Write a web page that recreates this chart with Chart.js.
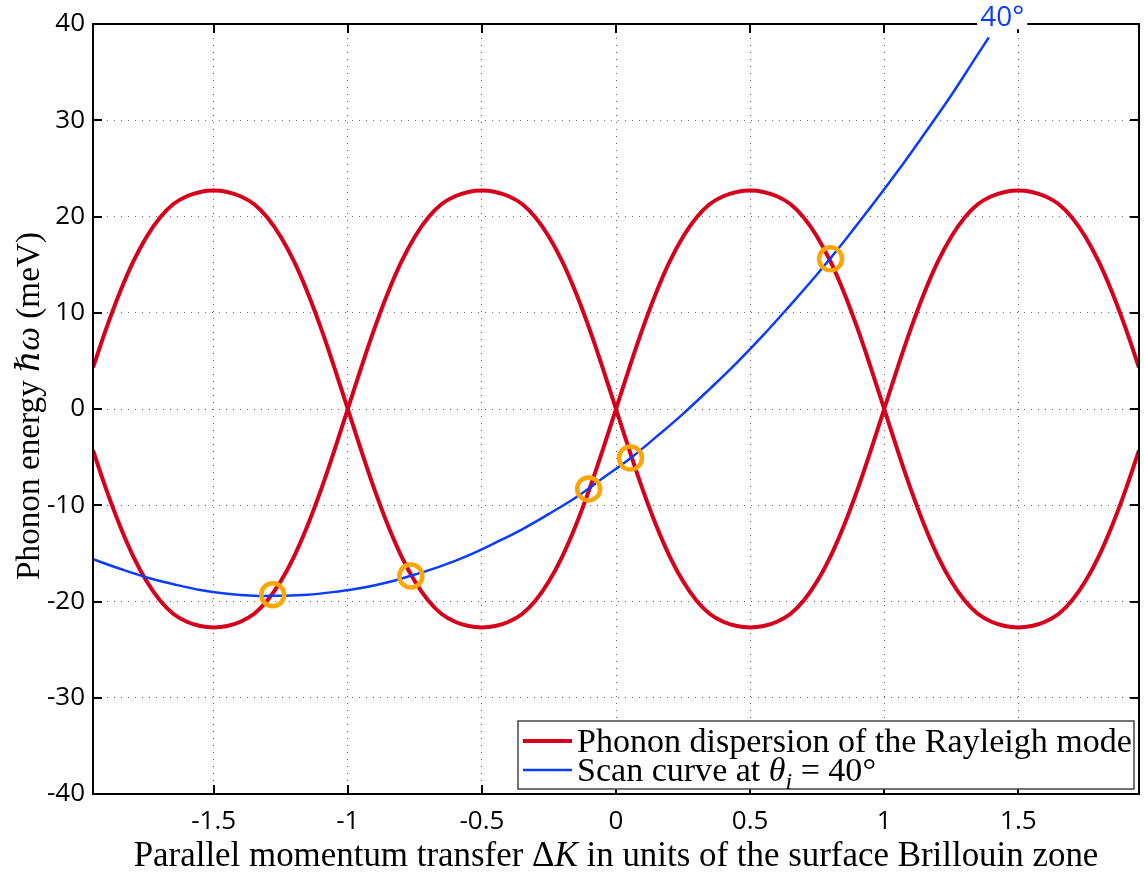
<!DOCTYPE html>
<html>
<head>
<meta charset="utf-8">
<script src="https://cdn.jsdelivr.net/npm/chart.js@4.4.0/dist/chart.umd.min.js"></script>
<style>
  html, body { margin: 0; padding: 0; background: #fff; }
</style>
</head>
<body>
<canvas id="chartCanvas" width="1144" height="872"></canvas>
<script>
// Rayleigh mode dispersion + scan curve at 40 deg

let kRed = [-1.95, -1.9, -1.85, -1.8, -1.75, -1.7, -1.65, -1.6, -1.55, -1.5,
    -1.45, -1.4, -1.35, -1.3, -1.25, -1.2, -1.15, -1.1, -1.05, -1.0,
    -0.95, -0.9, -0.85, -0.8, -0.75, -0.7, -0.65, -0.6, -0.55, -0.5,
    -0.45, -0.4, -0.35, -0.3, -0.25, -0.2, -0.15, -0.1, -0.05, 0.0,
    0.05, 0.1, 0.15, 0.2, 0.25, 0.3, 0.35, 0.4, 0.45, 0.5,
    0.55, 0.6, 0.65, 0.7, 0.75, 0.8, 0.85, 0.9, 0.95, 1.0,
    1.05, 1.1, 1.15, 1.2, 1.25, 1.3, 1.35, 1.4, 1.45, 1.5,
    1.55, 1.6, 1.65, 1.7, 1.75, 1.8, 1.85, 1.9, 1.95];

let rayleighA = [4.3, 8.4, 12.1, 15.3, 17.9, 19.9, 21.3, 22.1, 22.55, 22.7,
    22.55, 22.1, 21.3, 19.9, 17.9, 15.3, 12.1, 8.4, 4.3, 0,
    -4.3, -8.4, -12.1, -15.3, -17.9, -19.9, -21.3, -22.1, -22.55, -22.7,
    -22.55, -22.1, -21.3, -19.9, -17.9, -15.3, -12.1, -8.4, -4.3, 0,
    4.3, 8.4, 12.1, 15.3, 17.9, 19.9, 21.3, 22.1, 22.55, 22.7,
    22.55, 22.1, 21.3, 19.9, 17.9, 15.3, 12.1, 8.4, 4.3, 0,
    -4.3, -8.4, -12.1, -15.3, -17.9, -19.9, -21.3, -22.1, -22.55, -22.7,
    -22.55, -22.1, -21.3, -19.9, -17.9, -15.3, -12.1, -8.4, -4.3];

let rayleighB = [-4.3, -8.4, -12.1, -15.3, -17.9, -19.9, -21.3, -22.1, -22.55, -22.7,
    -22.55, -22.1, -21.3, -19.9, -17.9, -15.3, -12.1, -8.4, -4.3, 0,
    4.3, 8.4, 12.1, 15.3, 17.9, 19.9, 21.3, 22.1, 22.55, 22.7,
    22.55, 22.1, 21.3, 19.9, 17.9, 15.3, 12.1, 8.4, 4.3, 0,
    -4.3, -8.4, -12.1, -15.3, -17.9, -19.9, -21.3, -22.1, -22.55, -22.7,
    -22.55, -22.1, -21.3, -19.9, -17.9, -15.3, -12.1, -8.4, -4.3, 0,
    4.3, 8.4, 12.1, 15.3, 17.9, 19.9, 21.3, 22.1, 22.55, 22.7,
    22.55, 22.1, 21.3, 19.9, 17.9, 15.3, 12.1, 8.4, 4.3];

let kScan = [-1.95, -1.85, -1.75, -1.65, -1.55, -1.45, -1.35, -1.25, -1.15, -1.05,
    -0.95, -0.85, -0.75, -0.65, -0.55, -0.45, -0.35, -0.25, -0.15, -0.05,
    0.05, 0.15, 0.25, 0.35, 0.45, 0.55, 0.65, 0.75, 0.85, 0.95,
    1.05, 1.15, 1.25, 1.35, 1.39];

let scanE = [-15.6, -16.6, -17.5, -18.2, -18.8, -19.2, -19.4, -19.4, -19.3, -19.0,
    -18.6, -18.0, -17.2, -16.3, -15.2, -13.9, -12.5, -10.9, -9.2, -7.2,
    -5.2, -2.9, -0.5, 2.1, 4.8, 7.7, 10.8, 14.0, 17.4, 21.0,
    24.7, 28.6, 32.6, 36.9, 38.6];

let crossK = [-1.28, -0.765, -0.102, 0.054, 0.80];
let crossE = [-19.3, -17.35, -8.3, -5.1, 15.6];

let xTicks = [-1.5, -1, -0.5, 0, 0.5, 1, 1.5];
let yTicks = [-40, -30, -20, -10, 0, 10, 20, 30, 40];

let red = '#d7001c';
let blue = '#0a3cff';
let orange = '#ffa500';
let serif = '"Liberation Serif", "DejaVu Serif", serif';
let sans = '"Open Sans", "Noto Sans", sans-serif';

let toPoints = function (xs, ys) {
    return xs.map(function (x, i) { return { x: x, y: ys[i] }; });
};

// text with italic / subscript pieces
let richWidth = function (ctx, parts, size) {
    let w = 0;
    parts.forEach(function (p) {
        let s = p.sub ? size * 0.7 : size;
        ctx.font = (p.it ? 'italic ' : '') + s + 'px ' + serif;
        w += ctx.measureText(p.t).width;
    });
    return w;
};

let drawRich = function (ctx, parts, x, y, size) {
    ctx.textBaseline = 'alphabetic';
    ctx.textAlign = 'left';
    parts.forEach(function (p) {
        let s = p.sub ? size * 0.7 : size;
        ctx.font = (p.it ? 'italic ' : '') + s + 'px ' + serif;
        ctx.fillText(p.t, x, y + (p.sub ? size * 0.22 : 0));
        x += ctx.measureText(p.t).width;
    });
};

let fitSize = function (ctx, parts, width) {
    return 30 * width / richWidth(ctx, parts, 30);
};

let xTitle = [{ t: 'Parallel momentum transfer ' }, { t: '\u0394' }, { t: 'K', it: true },
    { t: ' in units of the surface Brillouin zone' }];
let yTitle = [{ t: 'Phonon energy ' }, { t: '\u210F\u03C9', it: true }, { t: ' (meV)' }];
let legend1 = [{ t: 'Phonon dispersion of the Rayleigh mode' }];
let legend2 = [{ t: 'Scan curve at ' }, { t: '\u03B8', it: true }, { t: 'i', it: true, sub: true },
    { t: ' = 40\u00B0' }];

let decorPlugin = {
    id: 'decor',
    afterDraw: function (chart) {
        let ctx = chart.ctx;
        let a = chart.chartArea;
        let xs = chart.scales.x;
        let ys = chart.scales.y;
        ctx.save();

        // axes box + inward ticks
        ctx.strokeStyle = '#000';
        ctx.lineWidth = 2;
        ctx.strokeRect(a.left, a.top, a.right - a.left, a.bottom - a.top);
        ctx.beginPath();
        xTicks.forEach(function (v) {
            let p = Math.round(xs.getPixelForValue(v));
            ctx.moveTo(p, a.bottom); ctx.lineTo(p, a.bottom - 9);
            ctx.moveTo(p, a.top); ctx.lineTo(p, a.top + 9);
        });
        yTicks.forEach(function (v) {
            let p = Math.round(ys.getPixelForValue(v));
            ctx.moveTo(a.left, p); ctx.lineTo(a.left + 9, p);
            ctx.moveTo(a.right, p); ctx.lineTo(a.right - 9, p);
        });
        ctx.stroke();

        // legend
        let lg = { left: 518, top: 721, right: 1134, bottom: 789 };
        ctx.fillStyle = '#fff';
        ctx.fillRect(lg.left, lg.top, lg.right - lg.left, lg.bottom - lg.top);
        ctx.strokeStyle = '#444';
        ctx.lineWidth = 1.5;
        ctx.strokeRect(lg.left, lg.top, lg.right - lg.left, lg.bottom - lg.top);
        ctx.lineWidth = 4;
        ctx.strokeStyle = red;
        ctx.beginPath(); ctx.moveTo(523, 741); ctx.lineTo(572, 741); ctx.stroke();
        ctx.lineWidth = 2.5;
        ctx.strokeStyle = blue;
        ctx.beginPath(); ctx.moveTo(523, 770); ctx.lineTo(572, 770); ctx.stroke();
        ctx.fillStyle = '#000';
        let ls = fitSize(ctx, legend1, 555);
        drawRich(ctx, legend1, 577, 741 + ls * 0.33, ls);
        drawRich(ctx, legend2, 577, 770 + ls * 0.33, ls);

        // axis titles
        let xsz = fitSize(ctx, xTitle, 965);
        let xw = richWidth(ctx, xTitle, xsz);
        drawRich(ctx, xTitle, 616 - xw / 2, 854 + xsz * 0.33, xsz);

        let ysz = fitSize(ctx, yTitle, 348);
        let yw = richWidth(ctx, yTitle, ysz);
        ctx.save();
        ctx.translate(28, 406);
        ctx.rotate(-Math.PI / 2);
        drawRich(ctx, yTitle, -yw / 2, ysz * 0.33, ysz);
        ctx.restore();

        // 40° label at the end of the scan curve
        let lx = xs.getPixelForValue(1.44);
        let ly = ys.getPixelForValue(40.6);
        ctx.font = '28px ' + sans;
        ctx.textAlign = 'center';
        ctx.textBaseline = 'middle';
        let tw = ctx.measureText('40\u00B0').width;
        ctx.fillStyle = '#fff';
        ctx.fillRect(lx - tw / 2 - 3, ly - 13, tw + 6, 24);
        ctx.fillStyle = blue;
        ctx.fillText('40\u00B0', lx, ly);

        ctx.restore();
    }
};

window.onload = function () {
    let ctx = document.getElementById('chartCanvas').getContext('2d');

    window.phononChart = new Chart(ctx, {
        type: 'scatter',
        data: {
            datasets: [{
                label: 'crossings',
                data: toPoints(crossK, crossE),
                showLine: false,
                pointRadius: 11.5,
                pointBorderWidth: 4.5,
                pointBorderColor: orange,
                pointBackgroundColor: 'rgba(0,0,0,0)',
                order: 0
            }, {
                label: 'Scan curve',
                data: toPoints(kScan, scanE),
                showLine: true,
                borderColor: blue,
                borderWidth: 2.5,
                pointRadius: 0,
                tension: 0.4,
                order: 1
            }, {
                label: 'Rayleigh A',
                data: toPoints(kRed, rayleighA),
                showLine: true,
                borderColor: red,
                borderWidth: 4,
                pointRadius: 0,
                tension: 0.4,
                order: 2
            }, {
                label: 'Rayleigh B',
                data: toPoints(kRed, rayleighB),
                showLine: true,
                borderColor: red,
                borderWidth: 4,
                pointRadius: 0,
                tension: 0.4,
                order: 3
            }]
        },
        options: {
            responsive: false,
            animation: false,
            layout: { autoPadding: false, padding: { top: 24, right: 5, left: 0, bottom: 0 } },
            plugins: {
                legend: { display: false },
                tooltip: { enabled: false }
            },
            scales: {
                x: {
                    type: 'linear',
                    min: -1.95,
                    max: 1.95,
                    afterFit: function (s) { s.height = 78; },
                    grid: { color: 'rgba(0,0,0,0.6)', lineWidth: 1, drawTicks: false },
                    border: { display: false, dash: [1, 6] },
                    ticks: {
                        stepSize: 0.5,
                        includeBounds: false,
                        padding: 12,
                        color: '#000',
                        font: { family: sans, size: 26 },
                        callback: function (v) { return String(Math.round(v * 10) / 10); }
                    }
                },
                y: {
                    min: -40,
                    max: 40,
                    afterFit: function (s) { s.width = 93; },
                    grid: { color: 'rgba(0,0,0,0.6)', lineWidth: 1, drawTicks: false },
                    border: { display: false, dash: [1, 6] },
                    ticks: {
                        stepSize: 10,
                        padding: 8,
                        color: '#000',
                        font: { family: sans, size: 26 },
                        callback: function (v) { return String(v); }
                    }
                }
            }
        },
        plugins: [decorPlugin]
    });
};
</script>
</body>
</html>
